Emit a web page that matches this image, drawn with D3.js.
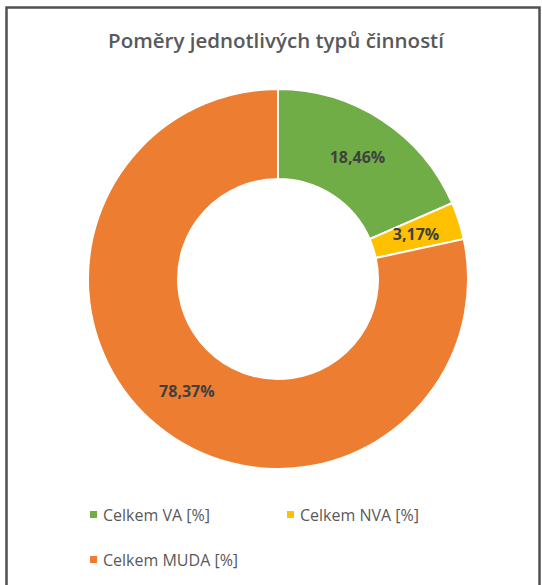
<!DOCTYPE html>
<html>
<head>
<meta charset="utf-8">
<script src="https://cdn.jsdelivr.net/npm/d3@7"></script>
<style>
  body { margin: 0; background: #fff; }
  text { font-family: "Open Sans", "Noto Sans", sans-serif; }
</style>
</head>
<body>
<div class="donut"></div>
<script>
// declare global values
const WIDTH = 542;
const HEIGHT = 585;

// chart data
var categories = ["Celkem VA [%]", "Celkem NVA [%]", "Celkem MUDA [%]"];
var values = [18.46, 3.17, 78.37];
var colors = ["#70AD47", "#FFC000", "#ED7D31"];
var title = "Poměry jednotlivých typů činností";

var svg = d3
  .select(".donut")
  .append("svg")
  .attr("width", WIDTH)
  .attr("height", HEIGHT);

// chart frame
svg
  .append("rect")
  .attr("x", 6.5)
  .attr("y", 7.5)
  .attr("width", 533)
  .attr("height", 590)
  .attr("fill", "#fff")
  .attr("stroke", "#505050")
  .attr("stroke-width", 2.5);

svg
  .append("text")
  .attr("x", 276)
  .attr("y", 48)
  .attr("text-anchor", "middle")
  .attr("fill", "#595959")
  .attr("font-size", "20.5px")
  .attr("font-weight", 600)
  .text(title);

var cx = 278, cy = 279;
var outer = 190, inner = 100;

var pie = d3.pie().sort(null).value(function (d) { return d; });
var arc = d3.arc().innerRadius(inner).outerRadius(outer);
var labelArc = d3.arc().innerRadius(145).outerRadius(145);

var g = svg.append("g").attr("transform", "translate(" + cx + "," + cy + ")");

var slices = pie(values);

g.selectAll("path")
  .data(slices)
  .enter()
  .append("path")
  .attr("d", arc)
  .attr("fill", function (d, i) { return colors[i]; })
  .attr("stroke", "#fff")
  .attr("stroke-width", 2);

g.selectAll(".lbl")
  .data(slices)
  .enter()
  .append("text")
  .attr("class", "lbl")
  .attr("transform", function (d) { return "translate(" + labelArc.centroid(d) + ")"; })
  .attr("dy", "0.35em")
  .attr("text-anchor", "middle")
  .attr("fill", "#404040")
  .attr("font-size", "16px")
  .attr("font-weight", 700)
  .text(function (d) { return d3.format(".2f")(d.data).replace(".", ",") + "%"; });

// legend
var legendPos = [[90, 515], [287, 515], [90, 560]];

var legend = svg
  .selectAll(".legend")
  .data(categories)
  .enter()
  .append("g")
  .attr("class", "legend")
  .attr("transform", function (d, i) { return "translate(" + legendPos[i][0] + "," + legendPos[i][1] + ")"; });

legend
  .append("rect")
  .attr("x", 0)
  .attr("y", -4)
  .attr("width", 7)
  .attr("height", 7)
  .attr("fill", function (d, i) { return colors[i]; });

legend
  .append("text")
  .attr("x", 13)
  .attr("dy", "0.35em")
  .attr("fill", "#595959")
  .attr("font-size", "16px")
  .text(function (d) { return d; });
</script>
</body>
</html>
